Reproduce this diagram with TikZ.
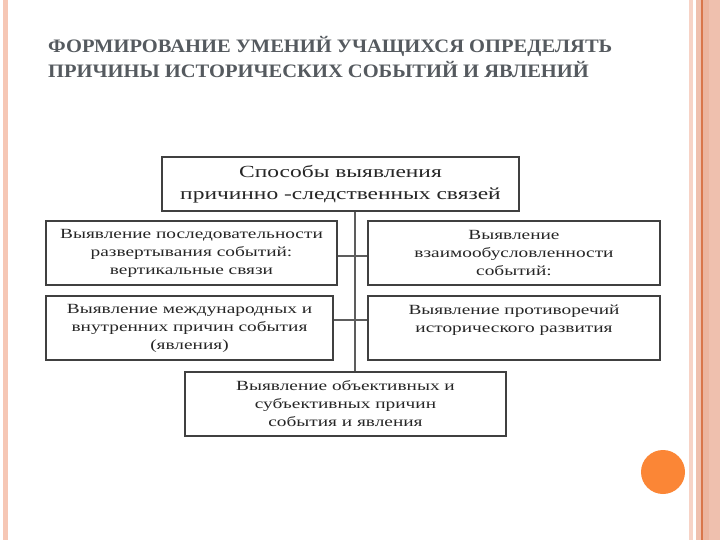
\documentclass[tikz,border=0pt]{standalone}
\usepackage{fontspec}
\setmainfont{Liberation Serif}
\newfontfamily\titlefont[FakeStretch=1.08]{Liberation Serif}
\newfontfamily\boxfont[FakeStretch=1.38]{Liberation Serif}
\definecolor{leftpink}{HTML}{F6C7B5}
\definecolor{lightpink}{HTML}{F7D3C6}
\definecolor{salmon}{HTML}{EFC0AE}
\definecolor{orangeline}{HTML}{D9764A}
\definecolor{dotorange}{HTML}{FB8636}
\definecolor{titlegray}{HTML}{555A5F}
\definecolor{boxline}{HTML}{404040}
\tikzset{
  box/.style={draw=boxline, line width=1.8pt, fill=white, align=center,
    inner sep=2pt, font=\boxfont\fontsize{14}{18}\selectfont, text=black!85},
  link/.style={draw=boxline!85, line width=1.4pt},
  titletext/.style={anchor=base west, inner sep=0pt, text=titlegray,
    font=\titlefont\bfseries\fontsize{19}{24}\selectfont}
}
\begin{document}
\begin{tikzpicture}[x=1pt,y=-1pt]
\useasboundingbox (0,0) rectangle (720,540);
\fill[white] (0,0) rectangle (720,540);
% decorative strips
\fill[leftpink] (3,0) rectangle (8,540);
\fill[lightpink] (689,0) rectangle (692.5,540);
\fill[salmon] (696,0) rectangle (720,540);
\fill[salmon!85!orangeline] (703,0) rectangle (709,540);
\draw[orangeline, line width=1.2pt] (702,0) -- (702,540);
\fill[dotorange] (663,472) circle (22);
% title
\node[titletext] (t1) at (48,53) {ФОРМИРОВАНИЕ УМЕНИЙ УЧАЩИХСЯ ОПРЕДЕЛЯТЬ};
\node[titletext] (t2) at (48,78) {ПРИЧИНЫ ИСТОРИЧЕСКИХ СОБЫТИЙ И ЯВЛЕНИЙ};
% boxes
\node[box, minimum width=357pt, minimum height=54pt,
  font=\boxfont\fontsize{17}{22}\selectfont] (top) at (340.5,184)
  {Способы выявления\\причинно -следственных связей};
\node[box, minimum width=291pt, minimum height=64pt] (r1l) at (191.5,253)
  {Выявление последовательности\\развертывания событий:\\вертикальные связи};
\node[box, minimum width=292pt, minimum height=64pt] (r1r) at (514,253)
  {Выявление\\взаимообусловленности\\событий:};
\node[box, minimum width=287pt, minimum height=64pt] (r2l) at (189.5,328)
  {Выявление международных и\\внутренних причин события\\(явления)};
\node[box, minimum width=292pt, minimum height=64pt] (r2r) at (514,328)
  {Выявление противоречий\\исторического развития\\ };
\node[box, minimum width=321pt, minimum height=64pt] (bot) at (345.5,404)
  {Выявление объективных и\\субъективных причин\\события и явления};
% connectors
\coordinate (sp) at (355,0);
\coordinate (c1) at (0,256);
\coordinate (c2) at (0,320);
\draw[link] (top.south -| sp) -- (bot.north -| sp);
\draw[link] (r1l.east |- c1) -- (r1r.west |- c1);
\draw[link] (r2l.east |- c2) -- (r2r.west |- c2);
\end{tikzpicture}
\end{document}
